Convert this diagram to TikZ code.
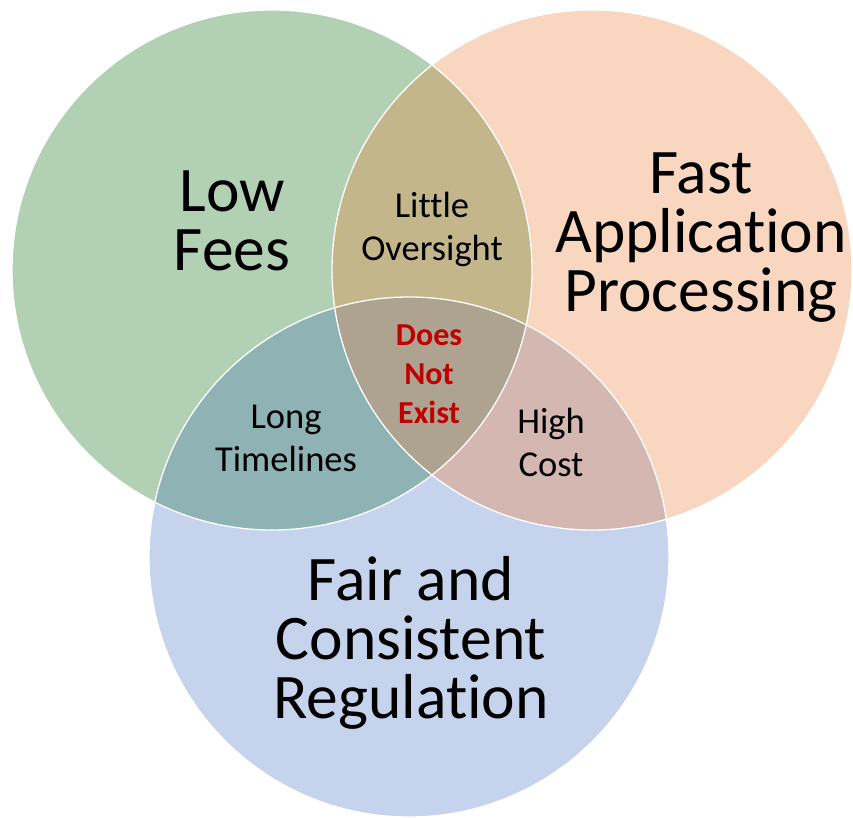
\documentclass[tikz,border=0pt]{standalone}
\usepackage{fontspec}
\setmainfont{Carlito}[Ligatures=CommonOff]
\definecolor{feesgreen}{HTML}{B2D0B4}
\definecolor{fastorange}{HTML}{F8D6C0}
\definecolor{fairblue}{HTML}{C5D3EC}
\definecolor{oversightolive}{HTML}{C2B68A}
\definecolor{timelinesteal}{HTML}{8FB2B4}
\definecolor{costrose}{HTML}{D4B7B0}
\definecolor{noneleft}{HTML}{AEA391}
\definecolor{noexistred}{HTML}{C00000}
\tikzset{
  bigtext/.style={align=center,inner sep=0pt,font=\fontsize{63.5}{59}\selectfont},
  smalltext/.style={align=center,inner sep=0pt,font=\fontsize{36.5}{43}\selectfont},
  redtext/.style={align=center,inner sep=0pt,text=noexistred,font=\bfseries\fontsize{32}{39}\selectfont},
  rim/.style={draw=white,line width=1.3pt}
}
\begin{document}
\begin{tikzpicture}[x=1pt,y=-1pt]
  \useasboundingbox (0,0) rectangle (853,818);
  \def\rad{260pt}
  \coordinate (fees) at (272,270);
  \coordinate (fast) at (592,270);
  \coordinate (fair) at (409,557);
  % circles
  \fill[feesgreen] (fees) circle (\rad);
  \fill[fastorange] (fast) circle (\rad);
  \fill[fairblue] (fair) circle (\rad);
  % overlaps
  \begin{scope}
    \clip (fees) circle (\rad);
    \fill[oversightolive] (fast) circle (\rad);
    \fill[timelinesteal] (fair) circle (\rad);
  \end{scope}
  \begin{scope}
    \clip (fast) circle (\rad);
    \fill[costrose] (fair) circle (\rad);
    \clip (fees) circle (\rad);
    \fill[noneleft] (fair) circle (\rad);
  \end{scope}
  \draw[rim] (fees) circle (\rad);
  \draw[rim] (fast) circle (\rad);
  \draw[rim] (fair) circle (\rad);
  % labels
  \node[bigtext] (lowfees) at (232,221) {Low\\Fees};
  \node[bigtext] (fastapp) at (701,238) {Fast\\Application\\Processing};
  \node[bigtext] (fairreg) at (411,643) {Fair and\\Consistent\\Regulation};
  \node[smalltext] (oversight) at (432,229) {Little\\Oversight};
  \node[smalltext] (timelines) at (286,438) {Long\\Timelines};
  \node[smalltext] (highcost) at (551,442) {High\\Cost};
  \node[redtext] (noexist) at (429,374) {Does\\Not\\Exist};
\end{tikzpicture}
\end{document}
